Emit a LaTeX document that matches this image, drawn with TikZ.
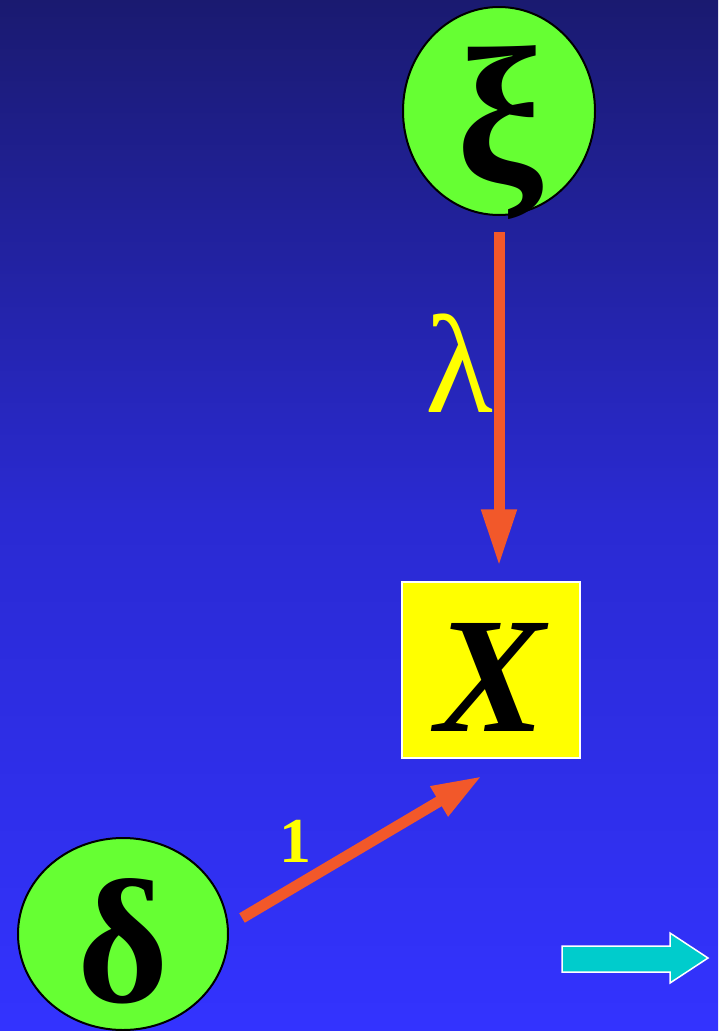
\documentclass[tikz,border=0pt]{standalone}
\usepackage{fontspec}
\setmainfont{Liberation Serif}
\usetikzlibrary{arrows.meta,shapes.geometric}
\definecolor{bgtop}{RGB}{26,26,112}
\definecolor{bgmid}{RGB}{42,42,210}
\definecolor{bgbot}{RGB}{51,51,255}
\definecolor{nodegreen}{RGB}{102,255,51}
\definecolor{arroworange}{RGB}{242,88,42}
\definecolor{labelyellow}{RGB}{255,255,0}
\definecolor{arrowcyan}{RGB}{0,204,204}
\tikzset{
  greenell/.style={ellipse, draw=black, line width=2pt, fill=nodegreen, inner sep=0pt},
  glyph/.style={inner sep=0pt, anchor=base, text=black},
  conn/.style={draw=arroworange, line width=11pt},
  edgelabel/.style={inner sep=0pt, text=labelyellow},
}
\begin{document}
\begin{tikzpicture}[x=1pt,y=-1pt]
\useasboundingbox (0,0) rectangle (718,1031);
\shade[top color=bgtop, bottom color=bgbot, middle color=bgmid] (0,0) rectangle (718,1031);
% nodes
\node[greenell, minimum width=192pt, minimum height=208pt] (xi) at (499,111) {};
\node[glyph] (xit) at (500,182) {\fontsize{195}{195}\selectfont\bfseries ξ};
\node[draw=white, line width=1.5pt, fill=labelyellow, minimum width=178pt, minimum height=176pt, inner sep=0pt] (X) at (491,670) {};
\node[glyph] (Xt) at (491,731) {\fontsize{165}{165}\selectfont\bfseries\itshape X};
\node[greenell, minimum width=210pt, minimum height=192pt] (delta) at (123,934) {};
\node[glyph] (deltat) at (123,1001) {\fontsize{176}{176}\selectfont\bfseries δ};
% connectors
\draw[conn, -{Triangle[length=57pt,width=33pt]}, shorten <=16pt, shorten >=15pt] (xi.south) -- (xi.south |- X.north);
\node[edgelabel, anchor=base] (lam) at (459,412) {\fontsize{140}{140}\selectfont λ};
\coordinate (dstart) at (242,918);
\coordinate (dend) at (482,776);
\draw[conn, -{Triangle[length=50pt,width=32pt]}] (dstart) -- (dend);
\node[edgelabel, anchor=base] (one) at (295,862) {\fontsize{64}{64}\selectfont\bfseries 1};
% cyan arrow
\draw[white, line width=1.5pt, fill=arrowcyan, line join=miter]
  (562,946) -- (670,946) -- (670,933) -- (708,958) -- (670,983) -- (670,972) -- (562,972) -- cycle;
\end{tikzpicture}
\end{document}
